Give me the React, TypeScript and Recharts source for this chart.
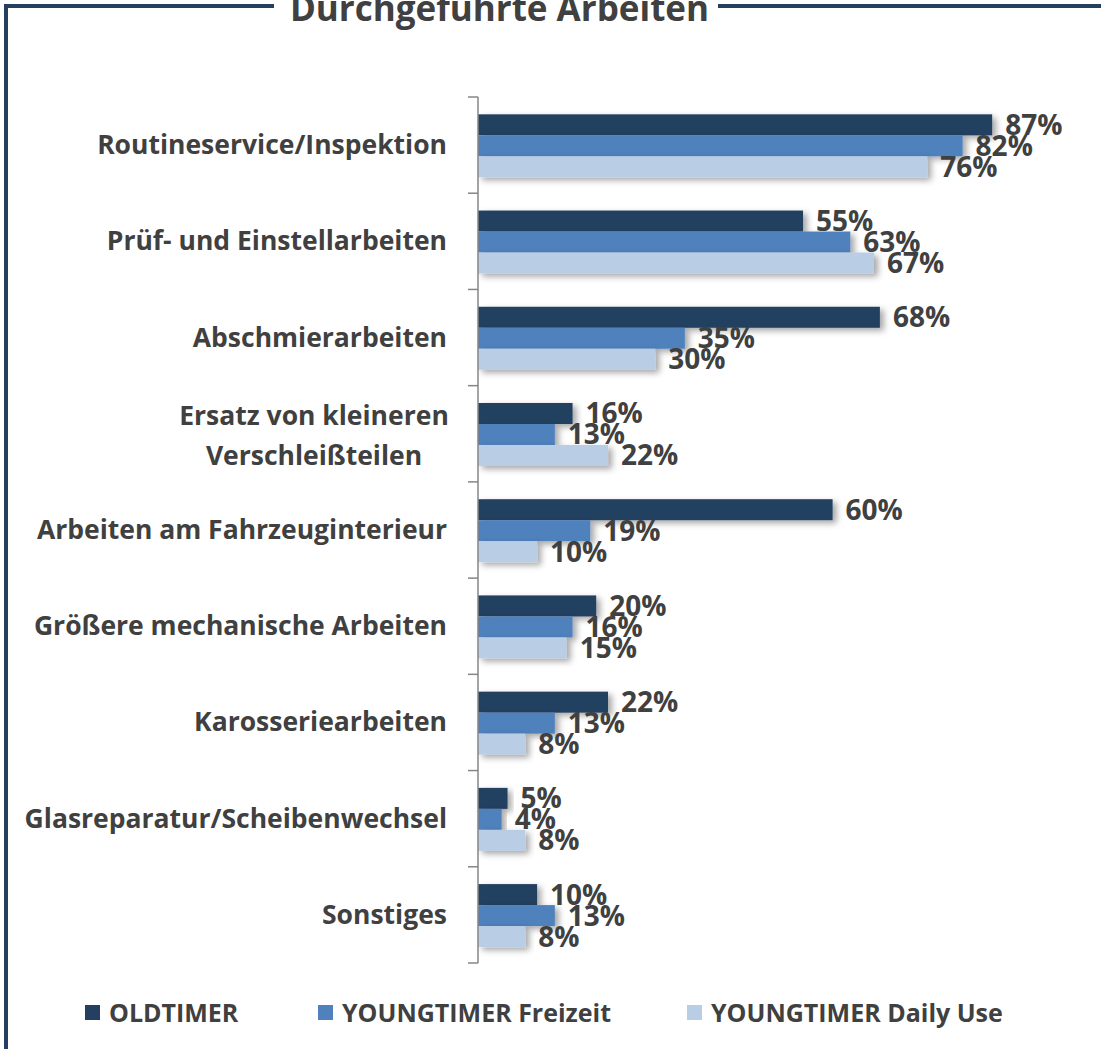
import React from 'react';
import { BarChart, Bar, XAxis, YAxis, LabelList, Legend } from 'recharts';

const categories = [
  'Routineservice/Inspektion',
  'Prüf- und Einstellarbeiten',
  'Abschmierarbeiten',
  'Ersatz von kleineren\nVerschleißteilen',
  'Arbeiten am Fahrzeuginterieur',
  'Größere mechanische Arbeiten',
  'Karosseriearbeiten',
  'Glasreparatur/Scheibenwechsel',
  'Sonstiges',
];

const oldtimer = [87, 55, 68, 16, 60, 20, 22, 5, 10];
const youngFreizeit = [82, 63, 35, 13, 19, 16, 13, 4, 13];
const youngDaily = [76, 67, 30, 22, 10, 15, 8, 8, 8];

const seriesNames = ['OLDTIMER', 'YOUNGTIMER Freizeit', 'YOUNGTIMER Daily Use'];
const seriesColors = ['#243F60', '#4F81BD', '#B9CDE5'];

const data = categories.map((name, i) => ({
  name,
  old: oldtimer[i],
  frei: youngFreizeit[i],
  daily: youngDaily[i],
}));

const FONT = '"Open Sans", sans-serif';
const TEXT = '#404040';
const TOP = 97;

const CategoryTick = (props: any) => {
  const { x, y, payload, index } = props;
  const lines = String(payload.value).split('\n');
  const band = (y - TOP) / (index + 0.5);
  const axisX = x + 8;
  const ticks = (
    <g stroke="#868686" strokeWidth={1.5}>
      <line x1={axisX - 10} x2={axisX} y1={y - band / 2} y2={y - band / 2} />
      {index === categories.length - 1 && <line x1={axisX - 10} x2={axisX} y1={y + band / 2} y2={y + band / 2} />}
    </g>
  );
  if (lines.length === 1) {
    return (
      <g>
        {ticks}
        <text x={x - 23} y={y} dy={9} textAnchor="end" fill={TEXT} fontFamily={FONT} fontWeight={700} fontSize={26.5}>
          {lines[0]}
        </text>
      </g>
    );
  }
  return (
    <g>
      {ticks}
      <text x={x - 156} y={y} textAnchor="middle" fill={TEXT} fontFamily={FONT} fontWeight={700} fontSize={26.5}>
        {lines.map((l: string, k: number) => (
          <tspan key={k} x={x - 156} dy={k === 0 ? -9 : 40}>{l}</tspan>
        ))}
      </text>
    </g>
  );
};

const ShadowBar = (props: any) => {
  const { x, y, width, height, fill } = props;
  if (!width || width <= 0) return null;
  return <rect x={x} y={y} width={width} height={height} fill={fill} filter="url(#barShadow)" />;
};

const LegendContent = () => {
  const pos = [85, 318, 687];
  return (
    <div style={{ position: 'relative', height: 30 }}>
      {seriesNames.map((n, i) => (
        <div key={n} style={{ position: 'absolute', left: pos[i], top: 0, display: 'flex', alignItems: 'center' }}>
          <span style={{ width: 15, height: 15, background: seriesColors[i], display: 'inline-block', marginRight: 9 }} />
          <span style={{ fontFamily: FONT, fontWeight: 700, fontSize: 25, color: TEXT, lineHeight: '30px' }}>{n}</span>
        </div>
      ))}
    </div>
  );
};

export default function App() {
  const label = { position: 'right' as const, offset: 13, fill: TEXT, fontFamily: FONT, fontWeight: 700, fontSize: 28, formatter: (v: any) => `${v}%` };
  return (
    <div style={{ position: 'absolute', left: 0, top: 0, width: 1101, height: 1049, overflow: 'hidden', background: '#fff' }}>
      <svg width={0} height={0} style={{ position: 'absolute' }}>
        <defs>
          <filter id="barShadow" x="-10%" y="-30%" width="130%" height="180%">
            <feDropShadow dx={4} dy={3} stdDeviation={3} floodColor="#000" floodOpacity={0.35} />
          </filter>
        </defs>
      </svg>
      {/* frame */}
      <div style={{ position: 'absolute', left: 4, top: 4, width: 4, height: 1100, background: '#243F60' }} />
      <div style={{ position: 'absolute', left: 4, top: 4, width: 270, height: 4, background: '#243F60' }} />
      <div style={{ position: 'absolute', left: 718, top: 4, width: 400, height: 4, background: '#243F60' }} />
      <div style={{ position: 'absolute', left: 0, width: 1101, top: -16, textAlign: 'center', paddingRight: 102, boxSizing: 'border-box' }}>
        <span style={{ fontFamily: FONT, fontWeight: 700, fontSize: 35, color: TEXT }}>Durchgeführte Arbeiten</span>
      </div>
      <div style={{ position: 'absolute', left: 0, top: 0 }}>
        <BarChart
          width={1101}
          height={1049}
          data={data}
          layout="vertical"
          margin={{ top: TOP, right: 32, bottom: 56, left: 0 }}
          barCategoryGap="18%"
          barGap={0}
        >
          <XAxis type="number" domain={[0, 100]} hide />
          <YAxis
            type="category"
            dataKey="name"
            width={478}
            axisLine={{ stroke: '#868686', strokeWidth: 1.5 }}
            tickLine={false}
            tick={<CategoryTick />}
            interval={0}
          />
          {[oldtimer, youngFreizeit, youngDaily].map((_, i) => (
            <Bar
              key={i}
              dataKey={['old', 'frei', 'daily'][i]}
              name={seriesNames[i]}
              fill={seriesColors[i]}
              shape={<ShadowBar />}
              isAnimationActive={false}
            >
              <LabelList dataKey={['old', 'frei', 'daily'][i]} {...label} />
            </Bar>
          ))}
          <Legend verticalAlign="bottom" wrapperStyle={{ left: 0, top: 997, width: 1101 }} content={<LegendContent />} />
        </BarChart>
      </div>
    </div>
  );
}
